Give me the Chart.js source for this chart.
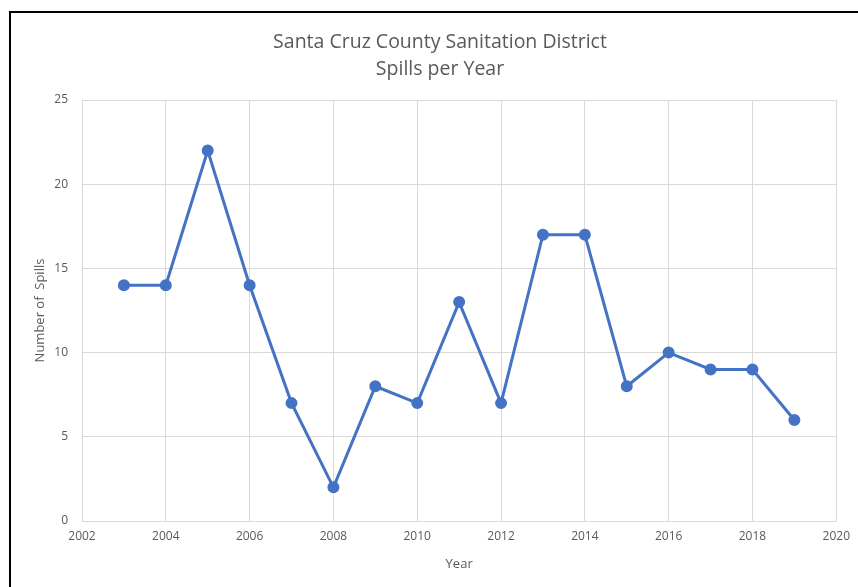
<!DOCTYPE html>
<html lang="en">
<head>
    <meta charset="UTF-8">
    <title>Spills per Year</title>
    <style>
        body { margin: 0; background: #fff; }
        .frame {
            position: absolute; left: 9px; top: 11px; width: 860px; height: 600px;
            border-left: 2px solid #000; border-top: 2px solid #000;
        }
        .chart-container { position: absolute; left: 0; top: 0; width: 858px; height: 587px; }
    </style>
</head>
<body>
    <div class="frame"></div>
    <div class="chart-container">
        <canvas id="spills"></canvas>
    </div>

    <script src="https://cdn.jsdelivr.net/npm/chart.js"></script>
    <script>
        // data
        const years = [2003, 2004, 2005, 2006, 2007, 2008, 2009, 2010, 2011, 2012, 2013, 2014, 2015, 2016, 2017, 2018, 2019];
        const spills = [14, 14, 22, 14, 7, 2, 8, 7, 13, 7, 17, 17, 8, 10, 9, 9, 6];
        const titleLines = ['Santa Cruz County Sanitation District', 'Spills per Year'];

        const grey = '#595959';
        const font = "'Open Sans', 'Liberation Sans', sans-serif";

        // title in the reference sits a little right of the chart centre
        const shiftTitle = {
            id: 'shiftTitle',
            afterLayout(chart) {
                if (chart.titleBlock) chart.titleBlock.left += 14;
            }
        };

        new Chart(document.getElementById('spills'), {
            type: 'line',
            data: {
                datasets: [{
                    label: 'Spills',
                    data: years.map((y, i) => ({ x: y, y: spills[i] })),
                    borderColor: '#4472C4',
                    backgroundColor: '#4472C4',
                    borderWidth: 3,
                    pointRadius: 4.5,
                    pointHoverRadius: 4.5,
                    tension: 0
                }]
            },
            plugins: [shiftTitle],
            options: {
                responsive: true,
                maintainAspectRatio: false,
                animation: false,
                layout: { padding: { left: 28, right: 20, top: 0, bottom: 0 } },
                plugins: {
                    legend: { display: false },
                    tooltip: { enabled: false },
                    title: {
                        display: true,
                        text: titleLines,
                        color: grey,
                        font: { family: font, size: 19.5, weight: 'normal', lineHeight: 1.385 },
                        padding: { top: 29, bottom: 17 }
                    }
                },
                scales: {
                    x: {
                        type: 'linear',
                        min: 2002,
                        max: 2020,
                        ticks: {
                            stepSize: 2,
                            color: grey,
                            padding: 8,
                            font: { family: font, size: 12 },
                            callback: (v) => String(v)
                        },
                        grid: { color: '#d9d9d9', drawTicks: false },
                        border: { color: '#d9d9d9' },
                        title: {
                            display: true,
                            text: 'Year',
                            color: grey,
                            padding: { top: 4, bottom: 15 },
                            font: { family: font, size: 13 }
                        },
                        afterFit: (s) => { s.height = 66; }
                    },
                    y: {
                        min: 0,
                        max: 25,
                        ticks: {
                            stepSize: 5,
                            color: grey,
                            padding: 14,
                            font: { family: font, size: 12 }
                        },
                        grid: { color: '#d9d9d9', drawTicks: false },
                        border: { display: false },
                        title: {
                            display: true,
                            text: 'Number of  Spills',
                            color: grey,
                            font: { family: font, size: 13 }
                        },
                        afterFit: (s) => { s.width = 54; }
                    }
                }
            }
        });
    </script>
</body>
</html>
